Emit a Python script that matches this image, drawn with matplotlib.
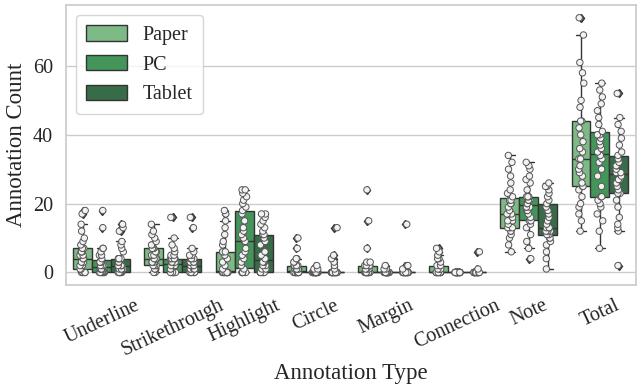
import numpy as np
import pandas as pd
import matplotlib
matplotlib.use('Agg')
import matplotlib.pyplot as plt
import seaborn as sns

# annotation types and devices
types = ['Underline', 'Strikethrough', 'Highlight', 'Circle', 'Margin',
         'Connection', 'Note', 'Total']
devices = ['Paper', 'PC', 'Tablet']
colors = ['#7dba86', '#43955a', '#386b48']

# per-participant counts
underline_paper = [0, 0, 0, 0, 0, 0, 1, 1, 1, 2, 2, 3, 3, 3, 4, 4, 5, 5, 6, 6, 6, 7, 7, 8, 9, 10, 12, 14, 17, 18]
underline_pc = [0, 0, 0, 0, 0, 0, 0, 0, 0, 0, 1, 1, 1, 1, 1, 2, 2, 2, 3, 3, 3, 3, 4, 5, 5, 6, 7, 7, 13, 18]
underline_tablet = [0, 0, 0, 0, 0, 0, 0, 0, 1, 1, 1, 1, 2, 2, 2, 2, 3, 3, 3, 4, 4, 4, 4, 6, 7, 8, 9, 12, 13, 14]

strike_paper = [0, 0, 1, 1, 1, 2, 2, 2, 3, 3, 3, 4, 4, 4, 4, 4, 5, 5, 6, 6, 7, 7, 7, 8, 8, 9, 10, 11, 12, 14]
strike_pc = [0, 0, 0, 0, 0, 0, 0, 0, 0, 1, 1, 2, 2, 2, 2, 3, 3, 3, 3, 4, 4, 4, 4, 5, 5, 6, 7, 8, 10, 16]
strike_tablet = [0, 0, 0, 0, 0, 0, 0, 0, 1, 1, 1, 1, 2, 2, 2, 2, 3, 3, 3, 3, 4, 4, 4, 4, 5, 5, 6, 7, 13, 16]

highlight_paper = [0, 0, 0, 0, 0, 0, 0, 0, 0, 0, 0, 0, 0, 0, 0, 1, 2, 3, 4, 5, 6, 6, 6, 8, 9, 11, 13, 15, 17, 18]
highlight_pc = [0, 0, 0, 0, 0, 0, 0, 1, 2, 3, 4, 5, 6, 7, 9, 9, 10, 11, 12, 13, 15, 17, 18, 19, 20, 21, 22, 23, 24, 24]
highlight_tablet = [0, 0, 0, 0, 0, 0, 0, 0, 1, 1, 2, 2, 3, 3, 3, 4, 5, 6, 8, 9, 10, 11, 11, 12, 13, 14, 15, 16, 17, 17]

circle_paper = [0] * 15 + [1, 1, 1, 1, 1, 2, 2, 2, 2, 3, 3, 4, 4, 7, 10]
circle_pc = [0] * 27 + [1, 1, 2]
circle_tablet = [0] * 24 + [1, 2, 3, 4, 5, 13]

margin_paper = [0] * 18 + [1, 1, 1, 2, 2, 2, 2, 3, 3, 7, 15, 24]
margin_pc = [0] * 27 + [1, 1, 2]
margin_tablet = [0] * 26 + [1, 2, 2, 14]

connection_paper = [0] * 17 + [1, 1, 1, 1, 2, 2, 2, 3, 4, 4, 5, 6, 7]
connection_pc = [0] * 30
connection_tablet = [0] * 28 + [1, 6]

note_paper = [6, 8, 10, 11, 12, 12, 13, 13, 13, 14, 15, 15, 16, 17, 17, 17, 18, 19, 20, 20, 21, 21, 22, 23, 24, 26, 28, 30, 32, 34]
note_pc = [4, 7, 9, 11, 13, 14, 15, 15, 16, 17, 18, 18, 19, 19, 19, 20, 20, 21, 21, 21, 22, 22, 22, 24, 26, 27, 28, 30, 31, 32]
note_tablet = [1, 4, 6, 8, 9, 10, 10, 11, 11, 12, 12, 12, 13, 13, 13, 13, 14, 15, 16, 17, 18, 19, 20, 21, 22, 23, 24, 25, 25, 26]

total_paper = [12, 15, 17, 19, 20, 22, 24, 25, 25, 26, 28, 29, 30, 31, 33, 33, 35, 36, 38, 40, 42, 44, 44, 48, 50, 55, 58, 61, 69, 74]
total_pc = [7, 12, 15, 17, 19, 20, 21, 22, 22, 25, 28, 30, 32, 33, 34, 35, 36, 37, 38, 39, 40, 40, 41, 43, 45, 47, 49, 51, 53, 55]
total_tablet = [2, 12, 13, 14, 16, 19, 21, 23, 23, 24, 25, 26, 27, 27, 28, 29, 29, 30, 31, 31, 32, 33, 34, 35, 37, 39, 41, 43, 45, 52]

series = {
    'Underline': [underline_paper, underline_pc, underline_tablet],
    'Strikethrough': [strike_paper, strike_pc, strike_tablet],
    'Highlight': [highlight_paper, highlight_pc, highlight_tablet],
    'Circle': [circle_paper, circle_pc, circle_tablet],
    'Margin': [margin_paper, margin_pc, margin_tablet],
    'Connection': [connection_paper, connection_pc, connection_tablet],
    'Note': [note_paper, note_pc, note_tablet],
    'Total': [total_paper, total_pc, total_tablet],
}

rows = []
for t in types:
    for d, vals in zip(devices, series[t]):
        for v in vals:
            rows.append((t, d, v))
df = pd.DataFrame(rows, columns=['Annotation Type', 'Device', 'Annotation Count'])

sns.set_theme(style='whitegrid')
plt.rcParams['font.family'] = ['Liberation Serif', 'DejaVu Serif']

np.random.seed(3)
fig, ax = plt.subplots(figsize=(6.42, 3.88), dpi=100)

sns.boxplot(data=df, x='Annotation Type', y='Annotation Count', hue='Device',
            order=types, hue_order=devices, palette=colors, saturation=1,
            linecolor='#333333', linewidth=1, fliersize=4.5,
            flierprops={'marker': 'd', 'markerfacecolor': '#8a8a8a'}, ax=ax)
handles, labels = ax.get_legend_handles_labels()

sns.stripplot(data=df, x='Annotation Type', y='Annotation Count', hue='Device',
              order=types, hue_order=devices, palette=['#f2f2f2'] * 3,
              dodge=True, jitter=0.12, size=4.6, edgecolor='#555555',
              linewidth=0.7, legend=False, ax=ax)

ax.legend(handles, labels, loc='upper left', fontsize=14.5, frameon=True,
          handlelength=2.0, handleheight=0.8, borderpad=0.5)

ax.set_xlabel('Annotation Type', fontsize=16.5, labelpad=2)
ax.set_ylabel('Annotation Count', fontsize=16.5)
ax.tick_params(axis='both', labelsize=14.5)
ax.tick_params(axis='x', pad=2)
plt.setp(ax.get_xticklabels(), rotation=25, ha='center')
ax.set_yticks([0, 20, 40, 60])

fig.subplots_adjust(left=0.103, right=0.99, top=0.987, bottom=0.265)
fig.savefig('out.png', dpi=100)
